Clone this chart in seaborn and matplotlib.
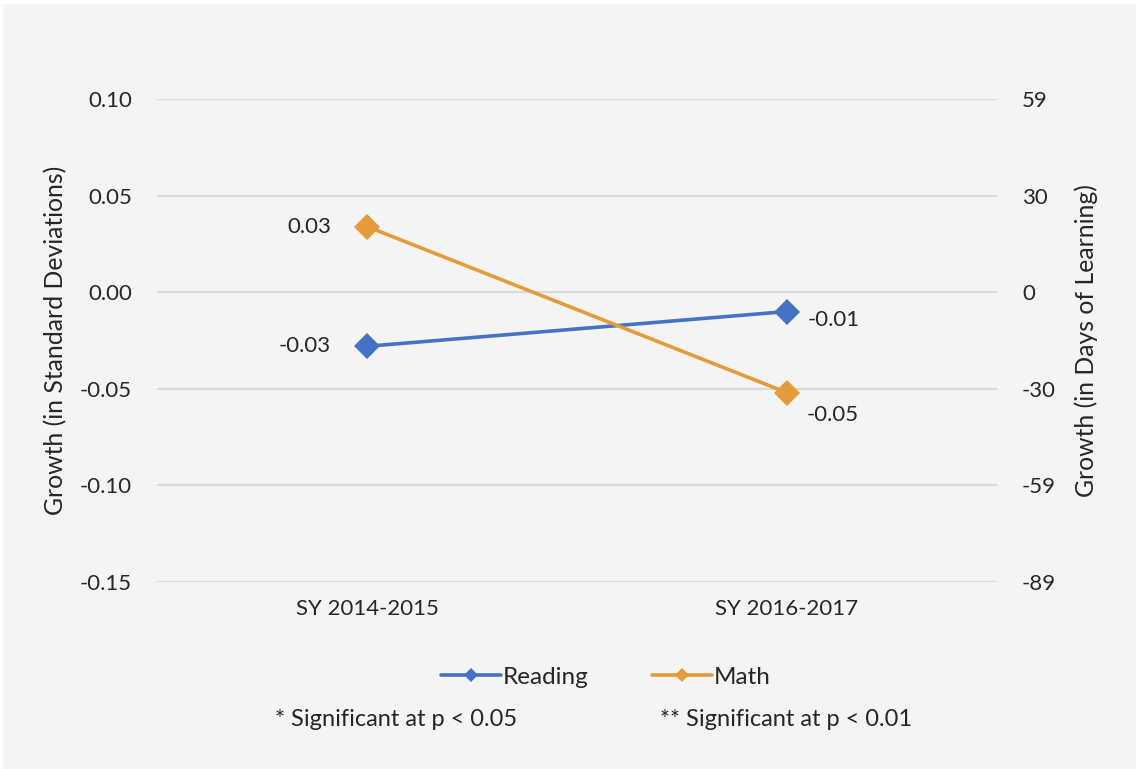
import matplotlib
matplotlib.use("Agg")
import matplotlib.pyplot as plt
from matplotlib.lines import Line2D
from matplotlib.patches import Rectangle
import seaborn as sns
import pandas as pd

# ---- data ----
years = ["SY 2014-2015", "SY 2016-2017"]
reading = [-0.028, -0.010]
math_vals = [0.034, -0.052]
reading_labels = ["-0.03", "-0.01"]
math_labels = ["0.03", "-0.05"]
left_ticks = [0.10, 0.05, 0.00, -0.05, -0.10, -0.15]
left_tick_labels = ["0.10", "0.05", "0.00", "-0.05", "-0.10", "-0.15"]
right_tick_labels = ["59", "30", "0", "-30", "-59", "-89"]
subjects = ["Reading", "Math"]

BLUE = "#4472C4"
ORANGE = "#E69B3A"
BG = "#F4F4F4"
TXT = "#262626"
FS = 16

sns.set_theme(style="white")
plt.rcParams["font.family"] = ["Lato", "DejaVu Sans"]

df = pd.DataFrame({
    "year": years * 2,
    "value": reading + math_vals,
    "subject": [subjects[0]] * 2 + [subjects[1]] * 2,
})

fig = plt.figure(figsize=(11.36, 7.69), dpi=100, facecolor="white")
fig.patches.append(Rectangle((3 / 1136, 0), 1, 1 - 4 / 769, transform=fig.transFigure,
                             facecolor=BG, edgecolor="none", zorder=-10))
ax = fig.add_axes([157 / 1136, 1 - 582 / 769, 840 / 1136, 483 / 769])
ax.set_facecolor(BG)

sns.lineplot(data=df, x="year", y="value", hue="subject", palette=[BLUE, ORANGE],
             marker="D", markersize=13, markeredgewidth=0, linewidth=2.6,
             legend=False, ax=ax, sort=False, zorder=3)

ax.set_xlim(-0.5, 1.5)
ax.set_ylim(-0.15, 0.10)
ax.set_yticks(left_ticks)
ax.set_yticklabels(left_tick_labels)
ax.yaxis.grid(True, color="#D9D9D9", linewidth=1.5)
ax.xaxis.grid(False)
ax.set_axisbelow(True)
for s in ax.spines.values():
    s.set_visible(False)
ax.tick_params(axis="both", length=0, labelsize=FS, colors=TXT)
ax.tick_params(axis="y", pad=18)
ax.tick_params(axis="x", pad=12)
ax.set_xlabel("")
ax.set_ylabel("Growth (in Standard Deviations)", fontsize=17.8, color=TXT, labelpad=9)

ax2 = ax.twinx()
ax2.set_ylim(ax.get_ylim())
ax2.set_yticks(left_ticks)
ax2.set_yticklabels(right_tick_labels)
for s in ax2.spines.values():
    s.set_visible(False)
ax2.tick_params(axis="y", length=0, labelsize=FS, colors=TXT, pad=18)
ax2.set_ylabel("Growth (in Days of Learning)", fontsize=17.8, color=TXT, labelpad=13)
ax2.yaxis.set_label_position("right")
ax2.yaxis.label.set_rotation(90)

# data labels
ax.annotate(math_labels[0], (0, math_vals[0]), xytext=(-26, 0), textcoords="offset points",
            ha="right", va="center", fontsize=FS, color=TXT)
ax.annotate(reading_labels[0], (0, reading[0]), xytext=(-26, 0), textcoords="offset points",
            ha="right", va="center", fontsize=FS, color=TXT)
ax.annotate(reading_labels[1], (1, reading[1]), xytext=(15, -6), textcoords="offset points",
            ha="left", va="center", fontsize=FS, color=TXT)
ax.annotate(math_labels[1], (1, math_vals[1]), xytext=(14, -16), textcoords="offset points",
            ha="left", va="center", fontsize=FS, color=TXT)

handles = [Line2D([], [], color=c, marker="D", markersize=7, linewidth=2.6, markeredgewidth=0)
           for c in (BLUE, ORANGE)]
fig.legend(handles, subjects, loc="center", bbox_to_anchor=(0.533, 1 - 677 / 769), ncol=2,
           frameon=False, fontsize=17.5, handlelength=2.5, handletextpad=0.05,
           columnspacing=2.6, labelcolor=TXT)

fig.text(275 / 1136, 1 - 720 / 769, "* Significant at p < 0.05", ha="left", va="center",
         fontsize=17, color=TXT)
fig.text(660 / 1136, 1 - 720 / 769, "** Significant at p < 0.01", ha="left", va="center",
         fontsize=17, color=TXT)

fig.savefig("out.png", dpi=100, facecolor=fig.get_facecolor())
